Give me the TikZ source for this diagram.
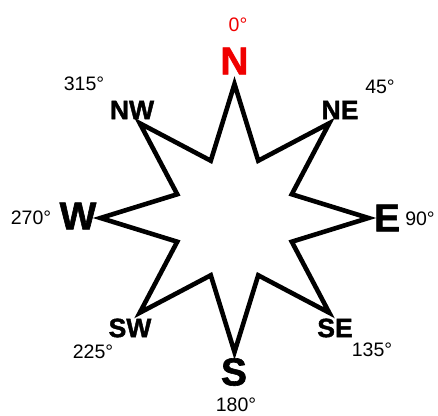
\documentclass[tikz,border=0pt]{standalone}
\usepackage{fontspec}
\usetikzlibrary{calc}
\setmainfont{Liberation Sans}
\newfontfamily\heavyfont[FakeBold=1.5]{Liberation Sans Bold}
\definecolor{nred}{RGB}{240,0,0}
\tikzset{
  big/.style={inner sep=0pt, font=\heavyfont\fontsize{39}{39}\selectfont},
  mid/.style={inner sep=0pt, font=\heavyfont\fontsize{26.5}{26.5}\selectfont},
  deg/.style={inner sep=0pt, font=\fontsize{19.5}{19.5}\selectfont},
  starline/.style={line width=4.6pt, line join=miter, miter limit=20}
}
\begin{document}
\begin{tikzpicture}[x=1pt,y=1pt]
\useasboundingbox (0,0) rectangle (438,415);
\coordinate (c) at (234.5,197);
% star
\foreach \k in {0,...,7}{
  \coordinate (o\k) at ($(c)+({90-45*\k}:134)$);
  \coordinate (i\k) at ($(c)+({90-22.5-45*\k}:62)$);
}
\draw[starline] (o0) -- (i0) -- (o1) -- (i1) -- (o2) -- (i2) -- (o3) -- (i3) -- (o4) -- (i4) -- (o5) -- (i5) -- (o6) -- (i6) -- (o7) -- (i7) -- cycle;
% cardinal letters
\node[big, text=nred] (N) at (234.5,354) {N};
\node[big] (E) at (387,197) {E};
\node[big] (S) at (234,43) {S};
\node[big] (W) at (78,199) {W};
% intercardinal
\node[mid] (NE) at (340,305) {NE};
\node[mid] (NW) at (132,305) {NW};
\node[mid] (SE) at (335,87) {SE};
\node[mid] (SW) at (130,87) {SW};
% degrees
\node[deg, text=nred] (d0) at (238,390.5) {0°};
\node[deg] (d45) at (380,328) {45°};
\node[deg] (d90) at (420,196) {90°};
\node[deg] (d135) at (372,65) {135°};
\node[deg] (d180) at (236,10) {180°};
\node[deg] (d225) at (93,63) {225°};
\node[deg] (d270) at (31,197) {270°};
\node[deg] (d315) at (84,331) {315°};
\end{tikzpicture}
\end{document}
